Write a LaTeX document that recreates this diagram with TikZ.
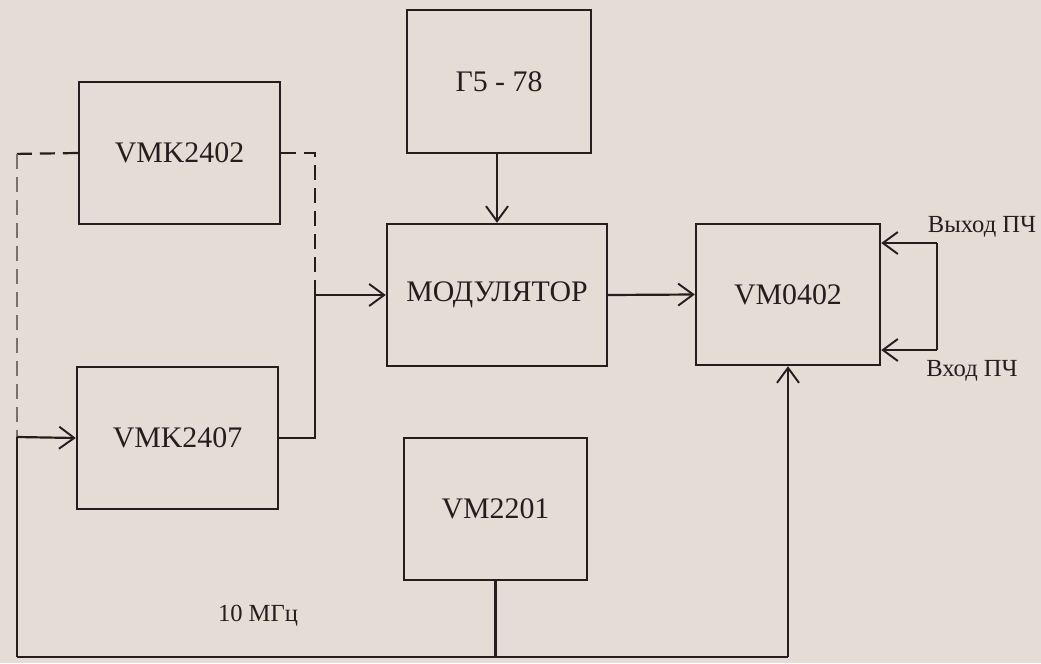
\documentclass[tikz,border=0pt]{standalone}
\usepackage{fontspec}
\setmainfont{Liberation Serif}
\usetikzlibrary{arrows.meta}
\definecolor{paper}{RGB}{229,220,213}
\definecolor{ink}{RGB}{38,30,30}
\definecolor{fadedink}{RGB}{120,112,108}
\tikzset{
  blk/.style={draw=ink, line width=1.4pt, rectangle, inner sep=0pt, font=\fontsize{17}{19}\selectfont, text=ink},
  wire/.style={draw=ink, line width=1.25pt},
  arr/.style={wire, -{Straight Barb[length=0.3cm,width=0.44cm,line width=1.1pt]}},
  dwire/.style={wire, dash pattern=on 0.3cm off 0.16cm},
  gwire/.style={draw=fadedink, line width=1.4pt, dash pattern=on 0.3cm off 0.16cm},
  lbl/.style={font=\fontsize{14}{16}\selectfont, text=ink, inner sep=0pt}
}
\begin{document}
\begin{tikzpicture}[x=0.02cm,y=-0.02cm]
\fill[paper] (0,0) rectangle (1041,663);
\useasboundingbox (0,0) rectangle (1041,663);
% blocks
\node[blk, minimum width=4.02cm, minimum height=2.84cm] (vmkA) at (179.5,153) {VMK2402};
\node[blk, minimum width=3.68cm, minimum height=2.86cm] (gen) at (499,81.5) {Г5 - 78};
\node[blk, minimum width=4.40cm, minimum height=2.84cm] (mod) at (497,295) {МОДУЛЯТОР};
\node[blk, minimum width=3.68cm, minimum height=2.82cm] (vm4) at (788,294.5) {VM0402};
\node[blk, minimum width=4.02cm, minimum height=2.84cm] (vmkB) at (177.5,438) {VMK2407};
\node[blk, minimum width=3.66cm, minimum height=2.84cm] (vm22) at (495.5,509) {VM2201};
% labels
\node[lbl] (lout) at (982,227) {Выход ПЧ};
\node[lbl] (lin) at (972,371) {Вход ПЧ};
\node[lbl] (l10) at (258,616) {10 МГц};
% coordinates
\coordinate (j) at (315,295);
\coordinate (jt) at (315,283);
\coordinate (lt0) at (10,154);
\coordinate (lt) at (17,154);
\coordinate (lm) at (17,437);
\coordinate (lb) at (17,657);
\coordinate (rloopT) at (937,243);
\coordinate (rloopB) at (937,350);
% connectors
\draw[arr] (gen.south -| mod.north) -- (mod.north);
\draw[arr] (mod.east) -- (vm4.west);
\draw[dwire] (vmkA.east) -| (j);
\draw[wire] (vmkB.east) -| (jt);
\draw[arr] (j) -- (mod.west);
\draw[dwire] (vmkA.west) -- (lt0);
\draw[gwire] (lt) -- (lm);
\draw[arr] (lm) -- (vmkB.west);
\draw[wire] (lm) -- (lb);
\draw[wire] (lb) -- (vm4.south |- lb);
\draw[wire] (vm22.south) -- (vm22.south |- lb);
\draw[arr] (vm4.south |- lb) -- (vm4.south);
\draw[arr] (rloopT) -- (rloopT -| vm4.east);
\draw[wire] (rloopT) -- (rloopB);
\draw[arr] (rloopB) -- (rloopB -| vm4.east);
\end{tikzpicture}
\end{document}
